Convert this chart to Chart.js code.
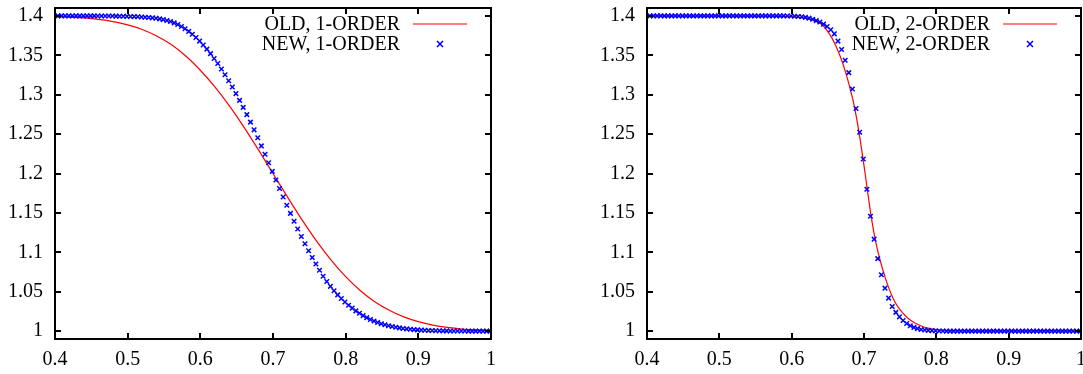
<!DOCTYPE html>
<html lang="en">
<head>
    <meta charset="UTF-8" />
    <title>OLD vs NEW</title>
    <script src="https://cdn.jsdelivr.net/npm/chart.js@4.4.0/dist/chart.umd.min.js"></script>
    <style>
        html, body { margin: 0; padding: 0; background: #fff; }
        body { width: 1083px; height: 374px; overflow: hidden; position: relative; }
        .panel { position: absolute; top: 0; }
        #leftPanel { left: 0; }
        #rightPanel { left: 592px; }
    </style>
</head>
<body>
    <div class="panel" id="leftPanel"><canvas id="chartOrder1" width="506" height="374"></canvas></div>
    <div class="panel" id="rightPanel"><canvas id="chartOrder2" width="504" height="374"></canvas></div>

    <script>
        // tick labels
        const xTicks = [0.4, 0.5, 0.6, 0.7, 0.8, 0.9, 1];
        const yTicks = [1, 1.05, 1.1, 1.15, 1.2, 1.25, 1.3, 1.35, 1.4];

        // NEW scheme, sampled points (same grid for both panels)
        const xNew = [
            0.404, 0.409, 0.414, 0.419, 0.424, 0.429, 0.434, 0.439, 0.444, 0.449,
            0.454, 0.459, 0.464, 0.469, 0.474, 0.479, 0.484, 0.489, 0.494, 0.499,
            0.504, 0.509, 0.514, 0.519, 0.524, 0.529, 0.534, 0.539, 0.544, 0.549,
            0.554, 0.559, 0.564, 0.569, 0.574, 0.579, 0.584, 0.589, 0.594, 0.599,
            0.604, 0.609, 0.614, 0.619, 0.624, 0.629, 0.634, 0.639, 0.644, 0.649,
            0.654, 0.659, 0.664, 0.669, 0.674, 0.679, 0.684, 0.689, 0.694, 0.699,
            0.704, 0.709, 0.714, 0.719, 0.724, 0.729, 0.734, 0.739, 0.744, 0.749,
            0.754, 0.759, 0.764, 0.769, 0.774, 0.779, 0.784, 0.789, 0.794, 0.799,
            0.804, 0.809, 0.814, 0.819, 0.824, 0.829, 0.834, 0.839, 0.844, 0.849,
            0.854, 0.859, 0.864, 0.869, 0.874, 0.879, 0.884, 0.889, 0.894, 0.899,
            0.904, 0.909, 0.914, 0.919, 0.924, 0.929, 0.934, 0.939, 0.944, 0.949,
            0.954, 0.959, 0.964, 0.969, 0.974, 0.979, 0.984, 0.989, 0.994, 0.999
        ];
        const newOrder1 = [
            1.4000, 1.4000, 1.4000, 1.4000, 1.4000, 1.4000, 1.4000, 1.4000, 1.4000, 1.4000,
            1.4000, 1.3999, 1.3999, 1.3999, 1.3998, 1.3998, 1.3997, 1.3996, 1.3995, 1.3994,
            1.3993, 1.3991, 1.3989, 1.3986, 1.3983, 1.3979, 1.3975, 1.3969, 1.3962, 1.3953,
            1.3942, 1.3928, 1.3911, 1.3890, 1.3865, 1.3836, 1.3803, 1.3766, 1.3725, 1.3680,
            1.3631, 1.3578, 1.3521, 1.3460, 1.3395, 1.3326, 1.3253, 1.3177, 1.3097, 1.3014,
            1.2928, 1.2839, 1.2747, 1.2652, 1.2554, 1.2453, 1.2350, 1.2244, 1.2136, 1.2027,
            1.1918, 1.1810, 1.1702, 1.1597, 1.1494, 1.1394, 1.1296, 1.1201, 1.1109, 1.1020,
            1.0934, 1.0851, 1.0772, 1.0697, 1.0630, 1.0568, 1.0512, 1.0460, 1.0413, 1.0369,
            1.0329, 1.0292, 1.0257, 1.0226, 1.0197, 1.0171, 1.0148, 1.0128, 1.0110, 1.0094,
            1.0080, 1.0068, 1.0058, 1.0049, 1.0041, 1.0034, 1.0028, 1.0023, 1.0019, 1.0016,
            1.0013, 1.0010, 1.0008, 1.0007, 1.0005, 1.0004, 1.0003, 1.0003, 1.0002, 1.0002,
            1.0001, 1.0001, 1.0001, 1.0000, 1.0000, 1.0000, 1.0000, 1.0000, 1.0000, 1.0000
        ];
        const newOrder2 = [
            1.4000, 1.4000, 1.4000, 1.4000, 1.4000, 1.4000, 1.4000, 1.4000, 1.4000, 1.4000,
            1.4000, 1.4000, 1.4000, 1.4000, 1.4000, 1.4000, 1.4000, 1.4000, 1.4000, 1.4000,
            1.4000, 1.4000, 1.4000, 1.4000, 1.4000, 1.4000, 1.4000, 1.4000, 1.4000, 1.4000,
            1.4000, 1.4000, 1.4000, 1.4000, 1.4000, 1.4000, 1.4000, 1.4000, 1.3999, 1.3998,
            1.3996, 1.3993, 1.3988, 1.3981, 1.3971, 1.3957, 1.3940, 1.3923, 1.3895, 1.3865,
            1.3825, 1.3772, 1.3680, 1.3573, 1.3438, 1.3280, 1.3072, 1.2825, 1.2523, 1.2184,
            1.1800, 1.1457, 1.1167, 1.0920, 1.0716, 1.0545, 1.0419, 1.0313, 1.0238, 1.0181,
            1.0134, 1.0097, 1.0068, 1.0047, 1.0032, 1.0021, 1.0014, 1.0009, 1.0006, 1.0004,
            1.0002, 1.0001, 1.0000, 1.0000, 1.0000, 1.0000, 1.0000, 1.0000, 1.0000, 1.0000,
            1.0000, 1.0000, 1.0000, 1.0000, 1.0000, 1.0000, 1.0000, 1.0000, 1.0000, 1.0000,
            1.0000, 1.0000, 1.0000, 1.0000, 1.0000, 1.0000, 1.0000, 1.0000, 1.0000, 1.0000,
            1.0000, 1.0000, 1.0000, 1.0000, 1.0000, 1.0000, 1.0000, 1.0000, 1.0000, 1.0000
        ];

        // OLD scheme, continuous curves
        const xOld1 = [
            0.40, 0.42, 0.44, 0.46, 0.48, 0.50, 0.52, 0.54, 0.56, 0.58,
            0.60, 0.62, 0.64, 0.66, 0.68, 0.70, 0.72, 0.74, 0.76, 0.78,
            0.80, 0.82, 0.84, 0.86, 0.88, 0.90, 0.92, 0.94, 0.96, 0.98, 1.00
        ];
        const oldOrder1 = [
            1.3991, 1.3985, 1.3974, 1.3956, 1.3928, 1.3886, 1.3828, 1.3745, 1.3636, 1.3490,
            1.3310, 1.3098, 1.2857, 1.2588, 1.2299, 1.2000, 1.1701, 1.1412, 1.1143, 1.0902,
            1.0692, 1.0516, 1.0373, 1.0264, 1.0180, 1.0120, 1.0077, 1.0047, 1.0027, 1.0015, 1.0008
        ];
        const xOld2 = [
            0.40, 0.45, 0.50, 0.55, 0.58, 0.60, 0.61, 0.62, 0.63, 0.64,
            0.645, 0.65, 0.655, 0.66, 0.665, 0.67, 0.675, 0.68, 0.685, 0.69,
            0.695, 0.70, 0.705, 0.71, 0.715, 0.72, 0.725, 0.73, 0.735, 0.74,
            0.745, 0.75, 0.76, 0.77, 0.78, 0.79, 0.80, 0.81, 0.82, 0.84,
            0.87, 0.90, 0.95, 1.00
        ];
        const oldOrder2 = [
            1.4000, 1.4000, 1.4000, 1.3999, 1.3996, 1.3990, 1.3982, 1.3968, 1.3945, 1.3900,
            1.3860, 1.3800, 1.3730, 1.3640, 1.3535, 1.3415, 1.3270, 1.3105, 1.2920, 1.2690,
            1.2410, 1.2100, 1.1770, 1.1450, 1.1185, 1.0980, 1.0810, 1.0660, 1.0530, 1.0420,
            1.0335, 1.0270, 1.0170, 1.0105, 1.0062, 1.0034, 1.0018, 1.0009, 1.0004, 1.0001,
            1.0000, 1.0000, 1.0000, 1.0000
        ];

        const FONT = { family: "'Liberation Serif', 'Times New Roman', serif", size: 20 };
        const RED = '#ff0000';
        const BLUE = '#0000ff';

        const pairs = (xs, ys) => xs.map((x, i) => ({ x: x, y: ys[i] }));

        // gnuplot-like frame: thick border, inward ticks on all sides, legend top-right
        const gnuplotFrame = {
            id: 'gnuplotFrame',
            afterDraw(chart) {
                const { ctx, chartArea: a, scales } = chart;
                const sx = scales.x, sy = scales.y;
                ctx.save();
                ctx.strokeStyle = '#000';
                ctx.lineWidth = 2;
                ctx.strokeRect(a.left, a.top, a.right - a.left, a.bottom - a.top);

                ctx.beginPath();
                xTicks.forEach(v => {
                    const px = Math.round(sx.getPixelForValue(v));
                    ctx.moveTo(px, a.bottom); ctx.lineTo(px, a.bottom - 6);
                    ctx.moveTo(px, a.top); ctx.lineTo(px, a.top + 6);
                });
                yTicks.forEach(v => {
                    const py = Math.round(sy.getPixelForValue(v));
                    ctx.moveTo(a.left, py); ctx.lineTo(a.left + 6, py);
                    ctx.moveTo(a.right, py); ctx.lineTo(a.right - 6, py);
                });
                ctx.stroke();

                // legend
                ctx.font = FONT.size + 'px ' + FONT.family;
                ctx.fillStyle = '#000';
                ctx.textAlign = 'right';
                ctx.textBaseline = 'middle';
                chart.data.datasets.forEach((ds, i) => {
                    const yRow = a.top + 16 + i * 20;
                    ctx.fillText(ds.label, a.right - 91, yRow + 1);
                    const cx = a.right - 51;
                    ctx.strokeStyle = ds.borderColor;
                    ctx.beginPath();
                    if (ds.showLine) {
                        ctx.lineWidth = 1.2;
                        ctx.moveTo(a.right - 78, yRow); ctx.lineTo(a.right - 24, yRow);
                    } else {
                        ctx.lineWidth = 1.5;
                        ctx.moveTo(cx - 3, yRow - 3); ctx.lineTo(cx + 3, yRow + 3);
                        ctx.moveTo(cx - 3, yRow + 3); ctx.lineTo(cx + 3, yRow - 3);
                    }
                    ctx.stroke();
                });
                ctx.restore();
            }
        };

        function makeChart(id, oldX, oldY, newY, order) {
            return new Chart(document.getElementById(id), {
                type: 'scatter',
                data: {
                    datasets: [{
                        label: 'OLD, ' + order + '-ORDER',
                        data: pairs(oldX, oldY),
                        showLine: true,
                        borderColor: RED,
                        borderWidth: 1.2,
                        pointRadius: 0,
                        cubicInterpolationMode: 'monotone',
                        order: 1
                    }, {
                        label: 'NEW, ' + order + '-ORDER',
                        data: pairs(xNew, newY),
                        showLine: false,
                        borderColor: BLUE,
                        backgroundColor: BLUE,
                        pointStyle: 'crossRot',
                        pointRadius: 3.2,
                        pointBorderWidth: 1.5,
                        order: 0
                    }]
                },
                options: {
                    responsive: false,
                    animation: false,
                    devicePixelRatio: 1,
                    layout: { padding: { top: 8, right: 15, bottom: 0, left: 0 } },
                    plugins: { legend: { display: false }, tooltip: { enabled: false } },
                    scales: {
                        x: {
                            type: 'linear',
                            min: 0.4,
                            max: 1,
                            grid: { display: false, drawTicks: false },
                            border: { display: false },
                            ticks: {
                                font: FONT,
                                color: '#000',
                                padding: 9,
                                maxRotation: 0,
                                autoSkip: false,
                                callback: v => String(v)
                            },
                            afterBuildTicks: s => { s.ticks = xTicks.map(v => ({ value: v })); },
                            afterFit: s => { s.height = 35; s.paddingLeft = 0; s.paddingRight = 0; }
                        },
                        y: {
                            type: 'linear',
                            min: 0.99,
                            max: 1.41,
                            grid: { display: false, drawTicks: false },
                            border: { display: false },
                            ticks: {
                                font: FONT,
                                color: '#000',
                                padding: 12,
                                callback: v => String(v)
                            },
                            afterBuildTicks: s => { s.ticks = yTicks.map(v => ({ value: v })); },
                            afterFit: s => { s.width = 55; s.paddingTop = 0; s.paddingBottom = 0; }
                        }
                    }
                },
                plugins: [gnuplotFrame]
            });
        }

        makeChart('chartOrder1', xOld1, oldOrder1, newOrder1, 1);
        makeChart('chartOrder2', xOld2, oldOrder2, newOrder2, 2);
    </script>
</body>
</html>
